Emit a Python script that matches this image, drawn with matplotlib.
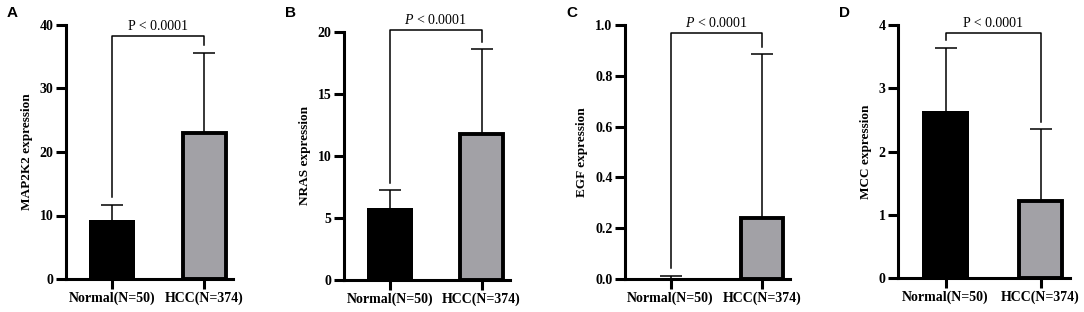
import matplotlib
matplotlib.use("Agg")
import matplotlib.pyplot as plt
from matplotlib.ticker import MultipleLocator, FormatStrFormatter

groups = ["Normal(N=50)", "HCC(N=374)"]
panels = ["A", "B", "C", "D"]
genes = ["MAP2K2", "NRAS", "EGF", "MCC"]

map2k2_mean = [9.3, 23.0]
map2k2_sd = [2.35, 12.6]
nras_mean = [5.78, 11.8]
nras_sd = [1.44, 6.8]
egf_mean = [0.003, 0.241]
egf_sd = [0.009, 0.644]
mcc_mean = [2.64, 1.22]
mcc_sd = [1.0, 1.13]

means = [map2k2_mean, nras_mean, egf_mean, mcc_mean]
sds = [map2k2_sd, nras_sd, egf_sd, mcc_sd]
y_max = [40, 20, 1.0, 4]
y_step = [10, 5, 0.2, 1]
bracket_y = [38.3, 20.1, 0.967, 3.87]
p_labels = ["P < 0.0001", "$P$ < 0.0001", "$P$ < 0.0001", "P < 0.0001"]

# axes boxes in figure pixels: left, top, right, bottom
boxes = [
    (66, 25, 233, 279),
    (344, 31.7, 510, 280),
    (625, 25, 790, 279),
    (898, 25, 1070, 278.3),
]

W, H = 1084, 312
plt.rcParams["font.family"] = ["Liberation Serif", "DejaVu Serif"]
plt.rcParams["mathtext.fontset"] = "custom"
plt.rcParams["mathtext.it"] = "Liberation Serif:italic"
plt.rcParams["mathtext.rm"] = "Liberation Serif"

fig = plt.figure(figsize=(W / 100, H / 100), dpi=100)
colors = ["black", "#a2a1a6"]
x = [0, 1]

for i in range(4):
    l, t, r, b = boxes[i]
    ax = fig.add_axes([l / W, (H - b) / H, (r - l) / W, (b - t) / H])
    # symmetric SD bars; the lower half sits behind the bar (or below the axis)
    ax.errorbar(x, means[i], yerr=sds[i], fmt="none", ecolor="black",
                elinewidth=1.1, capsize=8, capthick=1.1, zorder=1)
    # black bar has no outline, grey bar a thick black one; same outer width
    ax.bar(x, means[i], width=[0.5, 0.46], color=colors, edgecolor="black",
           linewidth=[0, 2.8], zorder=2)
    ax.set_xlim(-0.5, 1.31)
    ax.set_ylim(0, y_max[i])
    ax.yaxis.set_major_locator(MultipleLocator(y_step[i]))
    if i == 2:
        ax.yaxis.set_major_formatter(FormatStrFormatter("%.1f"))
    ax.set_xticks(x)
    ax.set_xticklabels(groups, fontweight="bold", fontsize=10)
    for lab in ax.get_yticklabels():
        lab.set_fontweight("bold")
        lab.set_fontsize(10)
    ax.set_ylabel(f"{genes[i]} expression", fontweight="bold", fontsize=9.5, labelpad=5)
    for side in ["top", "right"]:
        ax.spines[side].set_visible(False)
    for side in ["left", "bottom"]:
        ax.spines[side].set_linewidth(2.2)
    ax.tick_params(width=2.2, length=7, pad=2)

    # significance bracket
    gap = 0.03 * y_max[i]
    tops = [m + s for m, s in zip(means[i], sds[i])]
    by = bracket_y[i]
    ax.plot([0, 0, 1, 1], [tops[0] + gap, by, by, tops[1] + gap], color="black",
            linewidth=1.1, clip_on=False, zorder=3)
    ax.text(0.5, by + 0.012 * y_max[i], p_labels[i], ha="center", va="bottom",
            fontsize=10)

    fig.text((l - 59) / W, (H - 13) / H, panels[i], fontsize=11, fontweight="bold",
             family="Liberation Sans", ha="left", va="center")

fig.savefig("out.png", dpi=100)
